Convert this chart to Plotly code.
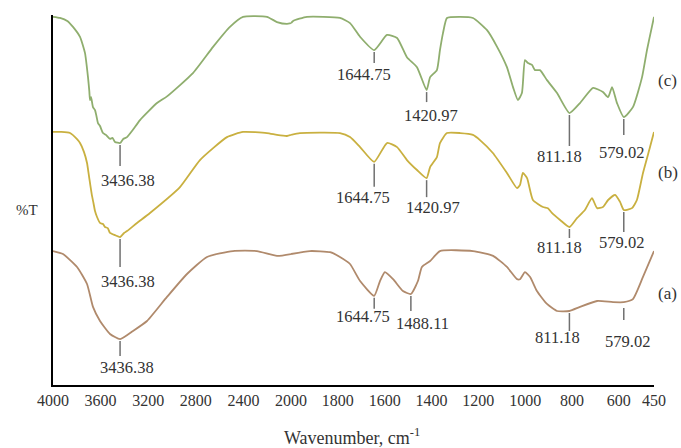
import numpy as np
import plotly.graph_objects as go

# ---------------- data ----------------
wn_c = [4000, 3941, 3880, 3832, 3773, 3731, 3706, 3695, 3689, 3680, 3664, 3647, 3635, 3622, 3605, 3580,
        3555, 3521, 3500, 3479, 3436, 3410, 3378, 3330, 3269, 3126, 3042, 2824, 2655, 2513, 2403, 2202,
        2118, 2034, 2000, 1991, 1932, 1791, 1748, 1705, 1645, 1590, 1547, 1505, 1462, 1421, 1406, 1377,
        1364, 1351, 1334, 1278, 1223, 1163, 1120, 1078, 1052, 1031, 1014, 1001, 988, 971, 958, 937, 907,
        864, 811, 766, 710, 668, 646, 629, 608, 579, 540, 501, 480, 459, 450]
t_c = [99.5, 99.2, 98.4, 96.8, 94.1, 89.7, 83.2, 79.5, 77.0, 77.8, 75.1, 74.3, 72.7, 70.8, 70.0, 68.1,
       67.6, 66.5, 66.8, 65.7, 65.4, 66.5, 67.0, 68.9, 71.6, 76.2, 78.0, 84.3, 91.4, 96.8, 99.5, 99.5,
       98.1, 97.6, 97.8, 98.4, 99.5, 99.2, 97.8, 94.1, 90.5, 94.6, 93.8, 88.6, 85.9, 79.7, 83.2, 85.1,
       90.5, 95.1, 99.2, 99.5, 99.2, 95.9, 91.4, 85.9, 80.5, 77.0, 78.9, 87.8, 87.0, 86.5, 85.1, 85.1,
       82.4, 78.9, 73.5, 76.2, 80.3, 79.2, 77.8, 80.5, 76.2, 72.4, 75.1, 83.2, 90.5, 96.8, 99.5]

wn_b = [4000, 3930, 3857, 3800, 3773, 3740, 3714, 3700, 3689, 3672, 3660, 3647, 3630, 3605, 3580, 3563,
        3540, 3521, 3479, 3436, 3403, 3378, 3294, 3185, 2933, 2765, 2538, 2403, 2202, 2118, 2034, 2000,
        1962, 1791, 1748, 1705, 1645, 1590, 1547, 1505, 1462, 1421, 1406, 1377, 1364, 1334, 1278, 1223,
        1193, 1138, 1078, 1035, 1022, 1010, 992, 967, 924, 903, 886, 851, 811, 779, 745, 715, 693, 668,
        646, 616, 595, 579, 544, 523, 497, 467, 450]
t_b = [68.4, 68.4, 68.1, 66.5, 65.4, 63.0, 60.0, 57.0, 54.6, 51.1, 49.2, 47.0, 45.4, 43.8, 43.5, 42.7,
       42.4, 41.1, 40.5, 40.0, 41.1, 41.6, 43.8, 46.5, 53.5, 60.8, 67.0, 68.4, 68.1, 67.6, 67.3, 67.6,
       68.1, 68.1, 67.0, 64.3, 60.3, 65.4, 64.3, 60.8, 58.1, 55.9, 58.9, 61.6, 65.4, 68.1, 68.1, 67.6,
       66.2, 62.7, 57.3, 53.2, 54.1, 57.3, 55.9, 50.0, 48.1, 47.8, 46.5, 44.6, 42.7, 45.1, 47.3, 50.5,
       47.8, 48.1, 50.0, 51.4, 49.5, 47.3, 47.8, 50.0, 57.3, 64.3, 68.4]

wn_a = [4000, 3916, 3798, 3714, 3664, 3605, 3521, 3436, 3328, 3210, 3042, 2874, 2706, 2488, 2286, 2118,
        2000, 1919, 1833, 1791, 1748, 1705, 1645, 1620, 1599, 1564, 1522, 1488, 1458, 1441, 1406, 1364,
        1223, 1137, 1078, 1035, 1022, 1001, 979, 950, 907, 864, 811, 766, 693, 625, 579, 540, 497, 450]
t_a = [36.2, 35.4, 31.9, 27.3, 21.1, 17.3, 13.8, 12.4, 14.6, 17.3, 23.8, 30.0, 34.6, 36.2, 36.2, 34.9,
       35.4, 36.2, 35.9, 34.6, 32.7, 28.1, 24.1, 28.1, 30.5, 28.6, 25.4, 24.6, 28.1, 31.9, 33.5, 36.2,
       36.2, 34.9, 31.9, 28.6, 28.6, 30.5, 29.2, 25.4, 21.9, 20.0, 20.0, 21.1, 22.7, 22.4, 22.4, 23.2,
       29.2, 36.2]

peaks_c = [3436.38, 1644.75, 1420.97, 811.18, 579.02]
peaks_b = [3436.38, 1644.75, 1420.97, 811.18, 579.02]
peaks_a = [3436.38, 1644.75, 1488.11, 811.18, 579.02]

series_names = ["(c)", "(b)", "(a)"]
ticks_left = [4000, 3600, 3200, 2800, 2400, 2000]
ticks_right = [1800, 1600, 1400, 1200, 1000, 800, 600, 450]

# ---------------- styling / layout ----------------
colors = ["#8fae6e", "#c9b040", "#b08a6c"]
FONT = "Liberation Serif"
PX_PER_UNIT = 3.7  # plot height 370 px over 0..100

# per label: (gap px, tick length px, text dx px, text dy px from curve)
place_c = [(2, 21, 8, 37), (2, 11, -10, 24), (2, 10, 4, 25), (2, 31, -10, 44), (2, 16, -2, 35)]
place_b = [(2, 28, 8, 45), (2, 23, -11, 36), (2, 17, 6, 29), (2, 9, -10, 21), (2, 20, -2, 33)]
place_a = [(2, 15, 7, 28), (2, 11, -11, 21), (2, 15, 12, 30), (2, 18, -12, 26), (6, 12, 4, 39)]

series = [(wn_c, t_c, peaks_c, place_c), (wn_b, t_b, peaks_b, place_b), (wn_a, t_a, peaks_a, place_a)]

fig = go.Figure()
shapes = []
annotations = []

for (wn, t, peaks, place), col in zip(series, colors):
    wn = np.array(wn, float)
    t = np.array(t, float)
    left = wn >= 2000
    right = wn <= 2000
    fig.add_trace(go.Scatter(x=wn[left], y=t[left], mode="lines", xaxis="x", yaxis="y",
                             line=dict(color=col, width=1.8, shape="spline", smoothing=0.5),
                             showlegend=False, hoverinfo="skip"))
    fig.add_trace(go.Scatter(x=wn[right], y=t[right], mode="lines", xaxis="x2", yaxis="y",
                             line=dict(color=col, width=1.8, shape="spline", smoothing=0.5),
                             showlegend=False, hoverinfo="skip"))
    for p, (gap, ln, dx, dy) in zip(peaks, place):
        yv = float(np.interp(p, wn[::-1], t[::-1]))
        xr = "x" if p >= 2000 else "x2"
        shapes.append(dict(type="line", xref=xr, yref="y", x0=p, x1=p,
                           y0=yv - gap / PX_PER_UNIT, y1=yv - (gap + ln) / PX_PER_UNIT,
                           line=dict(color="#707070", width=1.5)))
        annotations.append(dict(x=p, y=yv - dy / PX_PER_UNIT, xref=xr, yref="y",
                                text=f"{p:.2f}", showarrow=False, xshift=dx,
                                xanchor="center", yanchor="middle",
                                font=dict(family=FONT, size=16.5, color="#333333")))

# series labels on the right
for name, yp in zip(series_names, [0.824, 0.573, 0.246]):
    annotations.append(dict(x=1.023, y=yp, xref="paper", yref="paper", text=name, showarrow=False,
                            xanchor="center", yanchor="middle",
                            font=dict(family=FONT, size=17, color="#333333")))

annotations.append(dict(x=-0.043, y=0.473, xref="paper", yref="paper", text="%T", showarrow=False,
                        xanchor="center", yanchor="middle",
                        font=dict(family=FONT, size=15, color="#333333")))
annotations.append(dict(x=0.4975, y=-0.14, xref="paper", yref="paper",
                        text="Wavenumber, cm<sup>-1</sup>", showarrow=False,
                        xanchor="center", yanchor="middle",
                        font=dict(family=FONT, size=18, color="#333333")))

split = 238 / 601
axis_common = dict(showline=True, linecolor="black", linewidth=2, showgrid=False, zeroline=False,
                   ticks="", tickfont=dict(family=FONT, size=16, color="#333333"))
fig.update_layout(
    width=681, height=448,
    margin=dict(l=53, r=27, t=15, b=63),
    paper_bgcolor="white", plot_bgcolor="white",
    xaxis=dict(domain=[0, split], range=[4000, 2000], tickvals=ticks_left,
               ticktext=[str(v) for v in ticks_left], anchor="y", **axis_common),
    xaxis2=dict(domain=[split, 1], range=[2000, 450], tickvals=ticks_right,
                ticktext=[str(v) for v in ticks_right], anchor="y", **axis_common),
    yaxis=dict(range=[0, 100], showline=True, linecolor="black", linewidth=2, showgrid=False,
               zeroline=False, showticklabels=False, ticks=""),
    shapes=shapes,
    annotations=annotations,
)

fig.write_html("out.html")
